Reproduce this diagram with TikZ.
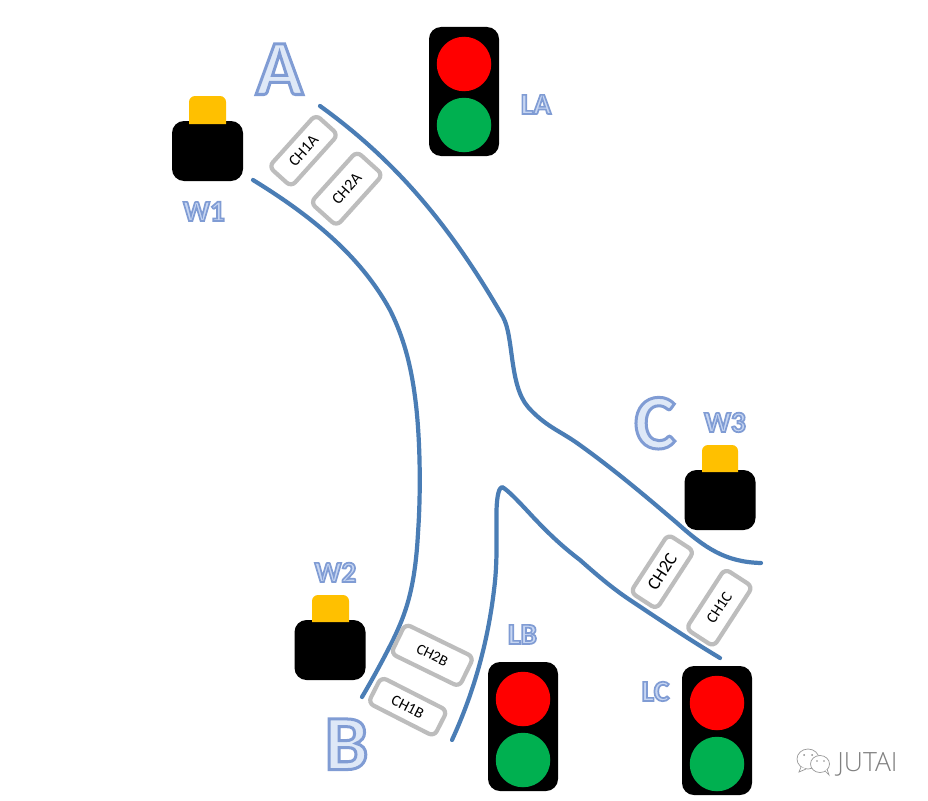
\documentclass[tikz,border=0pt]{standalone}
\usepackage{fontspec}
\setmainfont{Carlito}
\newfontfamily\wmfont{Open Sans Light}
\newcommand{\outl}[3]{\special{pdf:code q 2 Tr #2 w 0.50 0.61 0.83 RG #3 rg}#1\special{pdf:code Q}}
\newcommand{\biglet}[1]{\fontsize{78}{78}\selectfont\bfseries\outl{#1}{3}{0.87 0.91 0.97}}
\newcommand{\smalllet}[1]{\fontsize{29.5}{29.5}\selectfont\bfseries\outl{#1}{1.7}{0.78 0.84 0.95}}
\definecolor{road}{HTML}{4A7DB5}
\definecolor{boxgray}{HTML}{BDBDBD}
\definecolor{lampred}{HTML}{FF0000}
\definecolor{lampgreen}{HTML}{00B050}
\definecolor{capor}{HTML}{FFC000}
\tikzset{
  roadline/.style={draw=road,line width=4.2pt,line cap=round,line join=round},
  chanbox/.style={draw=boxgray,line width=4.2pt,fill=white,rounded corners=6pt,inner sep=0pt,font=\fontsize{16}{16}\selectfont},
  body/.style={fill=black,draw=none,rounded corners=12pt,minimum width=71pt,minimum height=60pt,inner sep=0pt},
  capblock/.style={fill=capor,draw=none},
  signal/.style={fill=black,draw=none,rounded corners=12pt,minimum width=70pt,minimum height=129pt,inner sep=0pt},
  lamp/.style={circle,minimum size=54.5pt,inner sep=0pt,draw=none},
  bigtext/.style={inner sep=0pt,anchor=base},
  smalltext/.style={inner sep=0pt,anchor=base},
  bubble/.style={draw=black!40,line width=0.7pt,fill=white},
}
\begin{document}
\begin{tikzpicture}[x=1pt,y=-1pt]
\useasboundingbox[fill=white] (0,0) rectangle (928,800);

% roads
\draw[roadline] (320,106) .. controls (395,160) and (450,225) .. (503,317)
  .. controls (514,337) and (509,385) .. (528,407)
  .. controls (545,426) and (560,431) .. (577,443)
  .. controls (615,470) and (650,500) .. (677,523)
  .. controls (705,548) and (725,562) .. (761,563);
\draw[roadline] (253,180) .. controls (310,215) and (360,255) .. (390,310)
  .. controls (405,340) and (412,370) .. (416,405)
  .. controls (420,440) and (421,490) .. (418,533)
  .. controls (415,590) and (405,615) .. (393,640)
  .. controls (383,660) and (372,680) .. (362,697);
\draw[roadline] (452,740) .. controls (475,690) and (488,640) .. (494,590)
  .. controls (498,560) and (496,530) .. (496.5,510)
  .. controls (497,495) and (499,488) .. (502,487)
  .. controls (508,490) and (520,503) .. (533,517)
  .. controls (550,535) and (563,547) .. (580,560)
  .. controls (597,575) and (612,588) .. (630,600)
  .. controls (660,620) and (690,640) .. (720,658);

% channel boxes
\node[chanbox,minimum width=70pt,minimum height=30pt,rotate=48] (ch1a) at (303.5,150.7) {CH1A};
\node[chanbox,minimum width=69pt,minimum height=35pt,rotate=48] (ch2a) at (346.7,188.7) {CH2A};
\node[chanbox,minimum width=69pt,minimum height=31pt,rotate=57,font=\fontsize{18}{18}\selectfont] (ch2c) at (662.3,571.7) {CH2C};
\node[chanbox,minimum width=71.5pt,minimum height=33pt,rotate=57,font=\fontsize{15.5}{15.5}\selectfont] (ch1c) at (719.3,607.7) {CH1C};
\node[chanbox,minimum width=76pt,minimum height=33pt,rotate=-26,font=\fontsize{15}{15}\selectfont] (ch2b) at (432.3,655.3) {CH2B};
\node[chanbox,minimum width=74pt,minimum height=29pt,rotate=-27,font=\fontsize{15.5}{15.5}\selectfont] (ch1b) at (407.7,706.7) {CH1B};

% cameras
\node[body] (w1body) at (207.5,151) {};
\fill[capblock] (189,124) [rounded corners=6pt] -- (189,96) -- (226,96) [sharp corners] -- (226,124) -- cycle;
\node[body] (w2body) at (330,650) {};
\fill[capblock] (312,622) [rounded corners=6pt] -- (312,595) -- (349,595) [sharp corners] -- (349,622) -- cycle;
\node[body] (w3body) at (720,500) {};
\fill[capblock] (702,472) [rounded corners=6pt] -- (702,445) -- (738,445) [sharp corners] -- (738,472) -- cycle;

% signals
\node[signal] (sa) at (464,91.5) {};
\node[lamp,fill=lampred] (sar) at (464,64) {};
\node[lamp,fill=lampgreen] (sag) at (464,125) {};
\node[signal] (sb) at (523,726.5) {};
\node[lamp,fill=lampred] (sbr) at (523,699) {};
\node[lamp,fill=lampgreen] (sbg) at (523,760) {};
\node[signal] (sc) at (717,730.5) {};
\node[lamp,fill=lampred] (scr) at (717,703) {};
\node[lamp,fill=lampgreen] (scg) at (717,764) {};

% letters
\node[bigtext] (la) at (279.5,94.5) {\biglet{A}};
\node[bigtext] (lb) at (346.5,769.5) {\biglet{B}};
\node[bigtext] (lc) at (655,448.5) {\biglet{C}};
\node[smalltext] (w1) at (204,221) {\smalllet{W1}};
\node[smalltext] (w2) at (335.5,582) {\smalllet{W2}};
\node[smalltext] (w3) at (725,432) {\smalllet{W3}};
\node[smalltext] (tla) at (536,114) {\smalllet{LA}};
\node[smalltext] (tlb) at (522.5,644) {\smalllet{LB}};
\node[smalltext] (tlc) at (655.5,701) {\smalllet{LC}};

% watermark
\draw[bubble] (808,759) ellipse (11pt and 10pt);
\draw[bubble] (801,767) -- (799,772) -- (806,769);
\draw[bubble] (820,764) ellipse (9.5pt and 8.5pt);
\draw[bubble] (825,771) -- (829,775) -- (827,769);
\fill[black!45] (804,755) circle (1pt) (812,755) circle (1pt) (817,761) circle (0.9pt) (824,761) circle (0.9pt);
\node[inner sep=0pt,anchor=base,text=black!50,font=\wmfont\fontsize{26.5}{26.5}\selectfont] (wm) at (867.5,771) {JUTAI};
\end{tikzpicture}
\end{document}
